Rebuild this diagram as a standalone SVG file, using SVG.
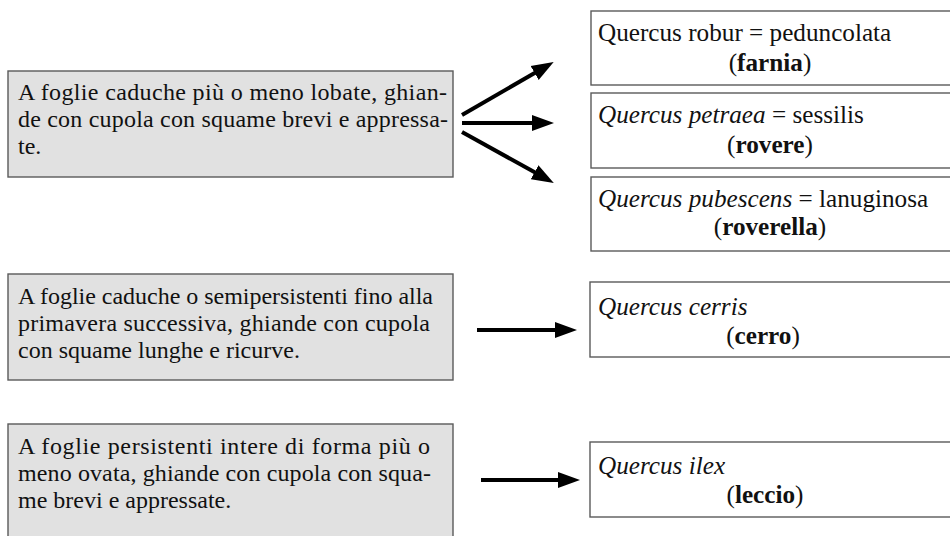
<svg xmlns="http://www.w3.org/2000/svg" width="950" height="536" viewBox="0 0 950 536" font-family="'Liberation Serif', 'Times New Roman', 'DejaVu Serif', serif">
<style>
  .lbox{fill:#e1e1e1;stroke:#5a5a5a;stroke-width:1.4}
  .rbox{fill:#ffffff;stroke:#5a5a5a;stroke-width:1.4}
  text{font-family:'Liberation Serif', 'Times New Roman', serif;font-size:25.2px;fill:#111}
  .l{font-size:24px}
  .c{text-anchor:middle}
  .i{font-style:italic}
  .b{font-weight:bold}
  .arr{stroke:#000;stroke-width:4;fill:none}
</style>
<defs>
  <marker id="ah" markerUnits="userSpaceOnUse" markerWidth="22" markerHeight="18" refX="10" refY="9" orient="auto" viewBox="0 0 22 18">
    <path d="M0,1 L22,9 L0,17 z" fill="#000"/>
  </marker>
</defs>
<rect width="950" height="536" fill="#fff"/>

<g id="n-left1">
  <rect class="lbox" x="8" y="71" width="445" height="106"/>
  <text class="l" x="18" y="100" textLength="429">A foglie caduche più o meno lobate, ghian-</text>
  <text class="l" x="18" y="127" textLength="430">de con cupola con squame brevi e appressa-</text>
  <text class="l" x="18" y="154">te.</text>
</g>
<g id="n-left2">
  <rect class="lbox" x="8" y="274" width="445" height="106"/>
  <text class="l" x="18" y="304" textLength="415">A foglie caduche o semipersistenti fino alla</text>
  <text class="l" x="18" y="331" textLength="412">primavera successiva, ghiande con cupola</text>
  <text class="l" x="18" y="358">con squame lunghe e ricurve.</text>
</g>
<g id="n-left3">
  <rect class="lbox" x="8" y="424" width="445" height="130"/>
  <text class="l" x="18" y="454" textLength="412">A foglie persistenti intere di forma più o</text>
  <text class="l" x="18" y="481" textLength="413">meno ovata, ghiande con cupola con squa-</text>
  <text class="l" x="18" y="508">me brevi e appressate.</text>
</g>

<g id="n-farnia">
  <rect class="rbox" x="591" y="11" width="370" height="74"/>
  <text x="598" y="41">Quercus robur = peduncolata</text>
  <text class="c" x="770" y="71">(<tspan class="b">farnia</tspan>)</text>
</g>
<g id="n-rovere">
  <rect class="rbox" x="591" y="93" width="370" height="75"/>
  <text x="598" y="123"><tspan class="i">Quercus petraea</tspan> = sessilis</text>
  <text class="c" x="770" y="153">(<tspan class="b">rovere</tspan>)</text>
</g>
<g id="n-roverella">
  <rect class="rbox" x="591" y="177" width="370" height="74"/>
  <text x="598" y="207"><tspan class="i">Quercus pubescens</tspan> = lanuginosa</text>
  <text class="c" x="770" y="235">(<tspan class="b">roverella</tspan>)</text>
</g>
<g id="n-cerro">
  <rect class="rbox" x="590" y="282" width="370" height="75"/>
  <text class="i" x="598" y="315">Quercus cerris</text>
  <text class="c" x="763" y="344">(<tspan class="b">cerro</tspan>)</text>
</g>
<g id="n-leccio">
  <rect class="rbox" x="590" y="442" width="370" height="75"/>
  <text class="i" x="598" y="474">Quercus ilex</text>
  <text class="c" x="765" y="503">(<tspan class="b">leccio</tspan>)</text>
</g>

<g id="connectors">
  <line class="arr" x1="462" y1="115" x2="543.3" y2="68" marker-end="url(#ah)"/>
  <line class="arr" x1="462" y1="123" x2="542" y2="123" marker-end="url(#ah)"/>
  <line class="arr" x1="462" y1="132" x2="543.3" y2="177.1" marker-end="url(#ah)"/>
  <line class="arr" x1="477" y1="330" x2="565" y2="330" marker-end="url(#ah)"/>
  <line class="arr" x1="481" y1="480" x2="568" y2="480" marker-end="url(#ah)"/>
</g>
</svg>
